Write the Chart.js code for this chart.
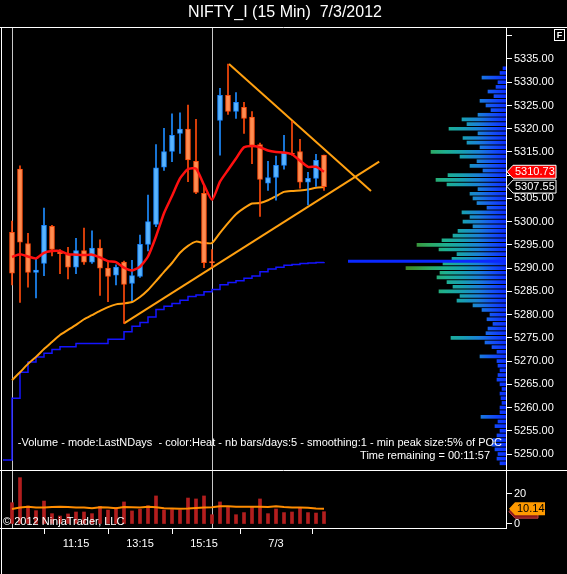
<!DOCTYPE html>
<html lang="en">
<head>
<meta charset="UTF-8">
<title>NIFTY_I (15 Min) 7/3/2012</title>
<script src="https://cdn.jsdelivr.net/npm/chart.js"></script>
<style>
  body { margin: 0; background: #000; width: 567px; height: 574px; overflow: hidden; position: relative; }
  canvas { position: absolute; left: 0; }
  #priceChart { top: 0; }
  #volChart { top: 470px; }
</style>
</head>
<body>
<canvas id="priceChart" width="567" height="470"></canvas>
<canvas id="volChart" width="567" height="104"></canvas>
<script>
// 15 min bars, 7/2 and 7/3 (bar index 0..39)
const opens  = [5297.7, 5311.3, 5295.3, 5289.1, 5291.0, 5299.0, 5293.5, 5292.9, 5290.2, 5293.8,
                5291.3, 5294.3, 5290.0, 5288.5, 5291.3, 5286.7, 5288.2, 5295.1, 5299.4, 5311.7,
                5315.1, 5319.0, 5319.9, 5313.0, 5306.1, 5291.4, 5321.8, 5327.2, 5323.7, 5324.6,
                5322.5, 5316.6, 5308.3, 5309.5, 5312.1, 5314.7, 5315.1, 5308.5, 5309.3, 5314.3];
const highs  = [5300.1, 5312.0, 5297.5, 5292.0, 5302.9, 5299.2, 5294.0, 5294.5, 5296.4, 5298.6,
                5298.0, 5296.1, 5291.5, 5290.7, 5291.5, 5291.7, 5297.1, 5305.7, 5316.6, 5320.1,
                5323.2, 5323.4, 5325.1, 5322.0, 5307.7, 5294.0, 5328.7, 5333.9, 5327.8, 5325.7,
                5323.7, 5316.9, 5313.0, 5314.1, 5318.6, 5321.6, 5317.7, 5310.6, 5314.5, 5314.3];
const lows   = [5286.4, 5282.6, 5285.9, 5283.6, 5288.4, 5292.6, 5288.8, 5287.7, 5288.8, 5290.8,
                5291.0, 5284.1, 5282.8, 5286.4, 5278.1, 5283.0, 5288.0, 5293.7, 5298.9, 5311.0,
                5312.9, 5314.7, 5308.6, 5306.0, 5290.1, 5290.2, 5314.3, 5323.1, 5322.2, 5319.0,
                5312.5, 5301.1, 5306.7, 5304.6, 5311.3, 5314.3, 5307.2, 5303.6, 5307.6, 5306.7];
const closes = [5288.9, 5295.6, 5289.1, 5289.6, 5299.2, 5294.0, 5293.1, 5290.2, 5293.8, 5291.3,
                5294.3, 5290.0, 5288.2, 5290.2, 5286.5, 5288.4, 5295.1, 5300.0, 5311.6, 5315.1,
                5318.6, 5319.9, 5313.3, 5306.3, 5291.2, 5291.2, 5327.2, 5323.7, 5325.7, 5322.2,
                5316.4, 5309.1, 5309.5, 5312.1, 5314.7, 5314.5, 5308.5, 5309.3, 5313.2, 5307.55];

const fastAvg = [5292.4, 5293.0, 5292.5, 5292.1, 5293.3, 5293.7, 5293.7, 5293.0, 5292.9, 5292.8,
                 5292.9, 5292.3, 5291.5, 5291.3, 5290.1, 5289.5, 5290.3, 5292.5, 5296.8, 5301.8,
                 5305.5, 5309.3, 5311.3, 5311.4, 5307.9, 5304.7, 5308.6, 5311.1, 5313.6, 5316.0,
                 5316.3, 5316.0, 5315.3, 5315.0, 5314.9, 5314.5, 5313.1, 5311.8, 5311.8, 5310.73];
const slowAvg = [5265.9, 5267.6, 5269.4, 5270.9, 5272.6, 5274.1, 5275.6, 5276.7, 5277.8, 5279.0,
                 5279.9, 5280.8, 5281.6, 5282.2, 5282.4, 5282.7, 5283.8, 5285.3, 5287.2, 5289.2,
                 5291.1, 5293.3, 5294.8, 5295.7, 5295.4, 5295.4, 5297.6, 5299.7, 5301.6, 5302.9,
                 5303.9, 5304.0, 5304.6, 5305.5, 5306.4, 5306.6, 5306.7, 5306.9, 5307.3, 5307.4];
const stepStart = 5248.7;
const stepLine = [5262.0, 5267.6, 5269.8, 5270.9, 5271.7, 5272.5, 5273.1, 5273.1, 5273.8, 5273.8,
                  5273.8, 5273.8, 5274.7, 5274.7, 5276.3, 5277.5, 5278.3, 5279.5, 5281.1, 5281.8,
                  5282.4, 5283.1, 5283.9, 5284.2, 5284.9, 5285.4, 5286.4, 5286.9, 5287.3, 5287.8,
                  5288.3, 5289.2, 5289.8, 5290.2, 5290.6, 5290.8, 5291.0, 5291.1, 5291.2, 5291.3];

const trendUpperX = [27.125, 44.875];
const trendUpperY = [5333.9, 5306.6];
const trendLowerX = [14, 45.9];
const trendLowerY = [5278.1, 5312.9];
const pocX = [42, 61.75];
const pocPrice = 5291.5;

// volume profile (price level -> volume)
const profilePrices = [5248, 5249, 5250, 5251, 5252, 5253, 5254, 5255, 5256, 5257,
                       5258, 5259, 5260, 5261, 5262, 5263, 5264, 5265, 5266, 5267,
                       5268, 5269, 5270, 5271, 5272, 5273, 5274, 5275, 5276, 5277,
                       5278, 5279, 5280, 5281, 5282, 5283, 5284, 5285, 5286, 5287,
                       5288, 5289, 5290, 5291, 5292, 5293, 5294, 5295, 5296, 5297,
                       5298, 5299, 5300, 5301, 5302, 5303, 5304, 5305, 5306, 5307,
                       5308, 5309, 5310, 5311, 5312, 5313, 5314, 5315, 5316, 5317,
                       5318, 5319, 5320, 5321, 5322, 5323, 5324, 5325, 5326, 5327,
                       5328, 5329, 5330, 5331, 5332, 5333];
const profileVolumes = [6, 9, 8, 11, 14, 13, 9, 6, 11, 8,
                        25, 6, 6, 4, 5, 6, 4, 6, 9, 8,
                        6, 8, 9, 26, 9, 14, 21, 55, 20, 18,
                        13, 19, 16, 24, 33, 49, 46, 67, 53, 59,
                        69, 66, 100, 63, 54, 49, 67, 89, 64, 53,
                        48, 33, 43, 36, 44, 19, 29, 33, 36, 28,
                        59, 70, 58, 23, 36, 29, 46, 75, 26, 39,
                        43, 28, 57, 39, 44, 28, 15, 20, 26, 12,
                        18, 10, 8, 24, 6, 3];

const volumes = [14.2, 30.9, 12.0, 8.9, 15.3, 6.9, 5.3, 6.7, 8.0, 8.0,
                 6.9, 11.8, 9.3, 11.0, 14.7, 8.7, 9.8, 12.2, 18.7, 9.3,
                 9.6, 9.3, 17.3, 16.7, 18.7, 6.2, 14.7, 11.1, 6.2, 7.6,
                 11.1, 16.7, 6.9, 10.0, 7.6, 8.0, 10.9, 7.6, 7.3, 8.2];
const volumeAvg = [10.0, 11.0, 11.5, 11.0, 11.0, 11.3, 11.5, 11.3, 11.0, 11.0,
                   10.5, 11.2, 11.0, 10.5, 11.3, 11.2, 11.0, 11.5, 11.2, 10.5,
                   10.3, 10.2, 10.3, 10.6, 11.0, 11.2, 11.8, 11.8, 11.5, 11.5,
                   11.5, 11.5, 11.3, 11.8, 11.3, 11.0, 11.0, 10.8, 10.3, 10.14];

const priceTicks = [5250, 5255, 5260, 5265, 5270, 5275, 5280, 5285, 5290, 5295,
                    5300, 5305, 5310, 5315, 5320, 5325, 5330, 5335, 5340];
const volumeTicks = [0, 20];
const timeTickPos = [8, 16, 24, 33];
const timeTickLabels = ['11:15', '13:15', '15:15', '7/3'];
const sessionBreaks = [0, 25];

const FONT = '"Liberation Sans", Arial, sans-serif';
const xMin = -1.125, xMax = 61.75;

function flag(ctx, x, y, w, h, text, fill, stroke, textColor) {
  ctx.save();
  ctx.beginPath();
  ctx.moveTo(x, y);
  ctx.lineTo(x + 6, y - h / 2);
  ctx.lineTo(x + w, y - h / 2);
  ctx.lineTo(x + w, y + h / 2);
  ctx.lineTo(x + 6, y + h / 2);
  ctx.closePath();
  ctx.fillStyle = fill;
  ctx.fill();
  if (stroke) { ctx.strokeStyle = stroke; ctx.lineWidth = 1; ctx.stroke(); }
  ctx.fillStyle = textColor;
  ctx.font = '11px ' + FONT;
  ctx.textAlign = 'left';
  ctx.textBaseline = 'middle';
  ctx.fillText(text, x + 8, y + 0.5);
  ctx.restore();
}

function heatGradient(chart) {
  const area = chart.chartArea;
  if (!area) return '#0a2cff';
  if (!chart.$heat) {
    const g = chart.ctx.createLinearGradient(area.right, 0, area.right - 110, 0);
    g.addColorStop(0, '#0a2cff');
    g.addColorStop(0.12, '#1450f5');
    g.addColorStop(0.25, '#1a80d8');
    g.addColorStop(0.4, '#18a0b0');
    g.addColorStop(0.55, '#1eb090');
    g.addColorStop(0.7, '#2ea860');
    g.addColorStop(0.85, '#3c9030');
    g.addColorStop(1, '#4a7a18');
    chart.$heat = g;
  }
  return chart.$heat;
}

const isUp = opens.map((o, i) => closes[i] >= o);

const priceFrame = {
  id: 'priceFrame',
  beforeDatasetsDraw(chart) {
    const { ctx, chartArea: a, scales: { x } } = chart;
    ctx.save();
    ctx.strokeStyle = '#c8c8c8';
    ctx.lineWidth = 1;
    sessionBreaks.forEach(v => {
      const px = Math.round(x.getPixelForValue(v)) + 0.5;
      ctx.beginPath(); ctx.moveTo(px, a.top); ctx.lineTo(px, a.bottom); ctx.stroke();
    });
    ctx.restore();
  },
  afterDraw(chart) {
    const { ctx, chartArea: a, scales: { y } } = chart;
    ctx.save();
    ctx.strokeStyle = '#ffffff';
    ctx.lineWidth = 1;
    ctx.beginPath();
    ctx.moveTo(0, a.top - 0.5); ctx.lineTo(567, a.top - 0.5);
    ctx.moveTo(1.5, a.top); ctx.lineTo(1.5, a.bottom);
    ctx.stroke();

    ctx.fillStyle = '#ffffff';
    ctx.font = '11px ' + FONT;
    ctx.textBaseline = 'middle';
    ctx.textAlign = 'right';
    ctx.fillText('-Volume - mode:LastNDays  - color:Heat - nb bars/days:5 - smoothing:1 - min peak size:5% of POC', 502, 443);
    ctx.fillText('Time remaining = 00:11:57', 490, 456);

    // F box
    ctx.strokeRect(554.5, 29.5, 10, 11);
    ctx.font = 'bold 9px ' + FONT;
    ctx.textAlign = 'center';
    ctx.fillText('F', 559.5, 35.5);
    ctx.restore();

    flag(ctx, a.right + 1, y.getPixelForValue(fastAvg[fastAvg.length - 1]), 49, 13,
         fastAvg[fastAvg.length - 1].toFixed(2), '#ff0000', '#ffffff', '#ffffff');
    flag(ctx, a.right + 1, y.getPixelForValue(closes[closes.length - 1]), 49, 13,
         closes[closes.length - 1].toFixed(2), '#000000', '#ffffff', '#ffffff');
  }
};

new Chart(document.getElementById('priceChart'), {
  type: 'bar',
  data: {
    datasets: [
      {
        type: 'line', label: 'Fast', order: 1,
        data: fastAvg.map((v, i) => ({ x: i, y: v })),
        borderColor: '#ff1010', borderWidth: 2.5, pointRadius: 0, tension: 0.2
      },
      {
        label: 'Bodies', order: 2, grouped: false,
        data: opens.map((o, i) => ({ x: i, y: [o, closes[i]] })),
        backgroundColor: isUp.map(u => u ? '#58b4ff' : '#ff8c50'),
        borderColor: isUp.map(u => u ? '#1a86ff' : '#ff4d0d'),
        borderWidth: 1, borderSkipped: false,
        barThickness: 5, maxBarThickness: 5
      },
      {
        label: 'Wicks', order: 3, grouped: false,
        data: lows.map((l, i) => ({ x: i, y: [l, highs[i]] })),
        backgroundColor: isUp.map(u => u ? '#1e8cff' : '#ff4a0a'),
        borderWidth: 0,
        barThickness: 1, maxBarThickness: 1
      },
      {
        type: 'line', label: 'Slow', order: 4,
        data: slowAvg.map((v, i) => ({ x: i, y: v })),
        borderColor: '#ffa010', borderWidth: 2, pointRadius: 0, tension: 0.2
      },
      {
        type: 'line', label: 'Trend upper', order: 4,
        data: trendUpperX.map((v, i) => ({ x: v, y: trendUpperY[i] })),
        borderColor: '#ffa010', borderWidth: 2, pointRadius: 0
      },
      {
        type: 'line', label: 'Trend lower', order: 4,
        data: trendLowerX.map((v, i) => ({ x: v, y: trendLowerY[i] })),
        borderColor: '#ffa010', borderWidth: 2, pointRadius: 0
      },
      {
        type: 'line', label: 'Step', order: 5, stepped: 'before',
        data: [{ x: xMin, y: stepStart }].concat(stepLine.map((v, i) => ({ x: i, y: v }))),
        borderColor: '#1414ff', borderWidth: 1.5, pointRadius: 0
      },
      {
        type: 'line', label: 'POC', order: 6,
        data: pocX.map(v => ({ x: v, y: pocPrice })),
        borderColor: '#0a28ff', borderWidth: 3, pointRadius: 0
      },
      {
        label: 'Profile', order: 7, indexAxis: 'y', grouped: false,
        xAxisID: 'xp', yAxisID: 'yp',
        data: profilePrices.map((p, i) => ({ x: profileVolumes[i], y: p })),
        backgroundColor: ctx => heatGradient(ctx.chart),
        borderWidth: 0,
        barThickness: 3, maxBarThickness: 3
      }
    ]
  },
  options: {
    responsive: false,
    animation: false,
    events: [],
    layout: { padding: { left: 3, right: 0, top: 0, bottom: 0 }, autoPadding: false },
    plugins: {
      legend: { display: false },
      tooltip: { enabled: false },
      title: {
        display: true,
        text: 'NIFTY_I (15 Min)  7/3/2012',
        color: '#ffffff',
        font: { family: FONT, size: 16, weight: 'normal' },
        padding: { top: 3, bottom: 5.8 }
      }
    },
    scales: {
      x: { type: 'linear', display: false, min: xMin, max: xMax, offset: false },
      xp: { type: 'linear', display: false, min: 0, max: 503, reverse: true, offset: false },
      yp: { type: 'linear', display: false, min: 5246.56, max: 5341.67, offset: false },
      y: {
        type: 'linear', position: 'right', min: 5246.56, max: 5341.67,
        afterBuildTicks: s => { s.ticks = priceTicks.map(v => ({ value: v })); },
        afterFit: s => { s.width = 61; s.paddingTop = 0; s.paddingBottom = 0; },
        ticks: {
          color: '#ffffff', padding: 2,
          font: { family: FONT, size: 11 },
          callback: v => (v > 5335 ? '' : Number(v).toFixed(2))
        },
        grid: { drawOnChartArea: false, drawTicks: true, tickLength: 6, color: '#ffffff' },
        border: { display: true, color: '#ffffff' }
      }
    }
  },
  plugins: [priceFrame]
});

const volFrame = {
  id: 'volFrame',
  beforeDatasetsDraw(chart) {
    const { ctx, chartArea: a, scales: { x } } = chart;
    ctx.save();
    ctx.strokeStyle = '#c8c8c8';
    ctx.lineWidth = 1;
    sessionBreaks.forEach(v => {
      const px = Math.round(x.getPixelForValue(v)) + 0.5;
      ctx.beginPath(); ctx.moveTo(px, a.top); ctx.lineTo(px, a.bottom); ctx.stroke();
    });
    ctx.restore();
  },
  afterDraw(chart) {
    const { ctx, chartArea: a, scales: { yv } } = chart;
    ctx.save();
    ctx.strokeStyle = '#ffffff';
    ctx.lineWidth = 1;
    ctx.beginPath();
    ctx.moveTo(0, 0.5); ctx.lineTo(567, 0.5);
    ctx.moveTo(0, a.bottom + 0.5); ctx.lineTo(a.right + 1, a.bottom + 0.5);
    ctx.moveTo(1.5, 0); ctx.lineTo(1.5, 104);
    ctx.stroke();
    ctx.fillStyle = '#ffffff';
    ctx.font = '11px ' + FONT;
    ctx.textAlign = 'left';
    ctx.textBaseline = 'middle';
    ctx.fillText('\u00a9 2012 NinjaTrader, LLC', 3, 52);
    ctx.restore();

    flag(ctx, a.right + 3, yv.getPixelForValue(volumes[volumes.length - 1]), 29, 13,
         '', '#8b1a1a', '#c04040', '#ffffff');
    flag(ctx, a.right + 3, yv.getPixelForValue(volumeAvg[volumeAvg.length - 1]), 36, 13,
         volumeAvg[volumeAvg.length - 1].toFixed(2), '#ff9a00', null, '#000000');
  }
};

new Chart(document.getElementById('volChart'), {
  type: 'bar',
  data: {
    datasets: [
      {
        type: 'line', label: 'Volume avg', order: 1,
        data: volumeAvg.map((v, i) => ({ x: i, y: v })),
        borderColor: '#ff8c00', borderWidth: 2, pointRadius: 0, yAxisID: 'yv'
      },
      {
        label: 'Volume', order: 2, grouped: false, yAxisID: 'yv',
        data: volumes.map((v, i) => ({ x: i, y: v })),
        backgroundColor: '#b21e1e', borderWidth: 0,
        barThickness: 3, maxBarThickness: 3
      }
    ]
  },
  options: {
    responsive: false,
    animation: false,
    events: [],
    layout: { padding: { left: 3, right: 0, top: 0, bottom: 0 }, autoPadding: false },
    plugins: { legend: { display: false }, tooltip: { enabled: false } },
    scales: {
      x: {
        type: 'linear', position: 'bottom', min: xMin, max: xMax, offset: false,
        afterBuildTicks: s => { s.ticks = timeTickPos.map(v => ({ value: v })); },
        afterFit: s => { s.height = 46; s.paddingLeft = 0; s.paddingRight = 0; },
        ticks: {
          color: '#ffffff', padding: 3, autoSkip: false, maxRotation: 0,
          font: { family: FONT, size: 11 },
          callback: (v, i) => timeTickLabels[i]
        },
        grid: { drawOnChartArea: false, drawTicks: true, tickLength: 6, color: '#ffffff' },
        border: { display: false }
      },
      yv: {
        type: 'linear', position: 'right', min: -2.667, max: 36,
        afterBuildTicks: s => { s.ticks = volumeTicks.map(v => ({ value: v })); },
        afterFit: s => { s.width = 61; s.paddingTop = 0; s.paddingBottom = 0; },
        ticks: { color: '#ffffff', padding: 2, font: { family: FONT, size: 11 } },
        grid: { drawOnChartArea: false, drawTicks: true, tickLength: 6, color: '#ffffff' },
        border: { display: true, color: '#ffffff' }
      }
    }
  },
  plugins: [volFrame]
});
</script>
</body>
</html>
